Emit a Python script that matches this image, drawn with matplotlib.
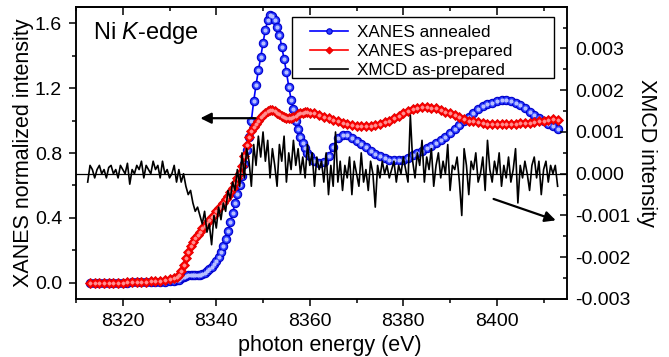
import matplotlib
matplotlib.use('Agg')
import matplotlib.pyplot as plt
from matplotlib.patches import Rectangle
from matplotlib.ticker import MultipleLocator, FixedLocator, FormatStrFormatter

plt.rcParams['font.family'] = 'Liberation Sans'
plt.rcParams['mathtext.fontset'] = 'custom'
plt.rcParams['mathtext.rm'] = 'Liberation Sans'
plt.rcParams['mathtext.it'] = 'Liberation Sans:italic'

# XANES energy grid (eV), shared by both XANES scans
energy = [8313, 8314, 8315, 8316, 8317, 8318, 8319, 8320, 8321, 8322,
          8323, 8324, 8325, 8326, 8327, 8328, 8329, 8330, 8331,
          8331.5, 8332, 8332.5, 8333, 8333.5, 8334, 8334.5, 8335, 8335.5, 8336,
          8336.5, 8337, 8337.5, 8338, 8338.5, 8339, 8339.5, 8340, 8340.5, 8341,
          8341.5, 8342, 8342.5, 8343, 8343.5, 8344, 8344.5, 8345, 8345.5, 8346,
          8346.5, 8347, 8347.5, 8348, 8348.5, 8349, 8349.5, 8350, 8350.5, 8351,
          8351.5, 8352, 8352.5, 8353, 8353.5, 8354, 8354.5, 8355, 8355.5, 8356,
          8356.5, 8357, 8357.5, 8358, 8358.5, 8359, 8359.5, 8360,
          8361, 8362, 8363, 8364, 8365, 8366, 8367, 8368, 8369, 8370,
          8371, 8372, 8373, 8374, 8375, 8376, 8377, 8378, 8379, 8380,
          8381, 8382, 8383, 8384, 8385, 8386, 8387, 8388, 8389, 8390,
          8391, 8392, 8393, 8394, 8395, 8396, 8397, 8398, 8399, 8400,
          8401, 8402, 8403, 8404, 8405, 8406, 8407, 8408, 8409, 8410,
          8411, 8412, 8413]

# XANES annealed (blue)
annealed = [0, 0, 0, 0, 0, 0, 0, 0, 0, 0.002,
            0.002, 0.003, 0.003, 0.004, 0.005, 0.006, 0.007, 0.009, 0.012,
            0.015, 0.02, 0.028, 0.036, 0.043, 0.047, 0.048, 0.047, 0.046, 0.046,
            0.048, 0.053, 0.06, 0.07, 0.083, 0.098, 0.116, 0.137, 0.162, 0.19,
            0.225, 0.27, 0.32, 0.375, 0.43, 0.49, 0.55, 0.60, 0.66, 0.73,
            0.82, 0.90, 1.00, 1.12, 1.22, 1.31, 1.39, 1.48, 1.56, 1.62,
            1.65, 1.645, 1.62, 1.58, 1.53, 1.455, 1.38, 1.30, 1.21, 1.13,
            1.07, 1.00, 0.95, 0.90, 0.86, 0.83, 0.80, 0.78,
            0.75, 0.74, 0.745, 0.78, 0.84, 0.89, 0.91, 0.91, 0.895, 0.875,
            0.855, 0.835, 0.815, 0.795, 0.78, 0.77, 0.76, 0.755, 0.755, 0.76,
            0.77, 0.785, 0.80, 0.815, 0.83, 0.845, 0.86, 0.88, 0.90, 0.925,
            0.95, 0.975, 1.0, 1.025, 1.05, 1.07, 1.09, 1.10, 1.11, 1.12,
            1.125, 1.125, 1.12, 1.11, 1.095, 1.075, 1.055, 1.035, 1.015, 0.995,
            0.98, 0.965, 0.95]

# XANES as-prepared (red)
prepared = [0, 0, 0, 0, 0, 0, 0, 0, 0.002, 0.003,
            0.004, 0.005, 0.006, 0.008, 0.01, 0.013, 0.017, 0.022, 0.03,
            0.036, 0.05, 0.075, 0.11, 0.15, 0.19, 0.225, 0.25, 0.275, 0.295,
            0.315, 0.335, 0.35, 0.37, 0.385, 0.405, 0.42, 0.44, 0.46, 0.475,
            0.495, 0.515, 0.535, 0.56, 0.585, 0.615, 0.645, 0.675, 0.72, 0.78,
            0.85, 0.90, 0.935, 0.96, 0.98, 1.0, 1.02, 1.035, 1.05, 1.06,
            1.065, 1.065, 1.06, 1.05, 1.04, 1.03, 1.02, 1.015, 1.015, 1.015,
            1.02, 1.03, 1.04, 1.045, 1.05, 1.055, 1.055, 1.05,
            1.045, 1.035, 1.025, 1.015, 1.005, 0.995, 0.985, 0.978, 0.972, 0.968,
            0.966, 0.966, 0.968, 0.972, 0.978, 0.99, 1.0, 1.015, 1.03, 1.045,
            1.06, 1.07, 1.08, 1.085, 1.085, 1.08, 1.075, 1.065, 1.055, 1.045,
            1.035, 1.02, 1.01, 1.0, 0.995, 0.99, 0.985, 0.98, 0.98, 0.978,
            0.978, 0.978, 0.98, 0.982, 0.984, 0.985, 0.988, 0.99, 0.995, 1.0,
            1.005, 1.01, 1.005]

# XMCD as-prepared, energies (eV) and signal in units of 1e-4
xmcd_energy = [8312.5, 8313.0, 8313.5, 8314.0, 8314.5, 8315.0, 8315.5, 8316.0, 8316.5, 8317.0,
               8317.5, 8318.0, 8318.5, 8319.0, 8319.5, 8320.0, 8320.5, 8321.0, 8321.5, 8322.0,
               8322.5, 8323.0, 8323.5, 8324.0, 8324.5, 8325.0, 8325.5, 8326.0, 8326.5, 8327.0,
               8327.5, 8328.0, 8328.5, 8329.0, 8329.5, 8330.0, 8330.5, 8331.0, 8331.5, 8332.0,
               8332.5, 8333.0, 8333.5, 8334.0, 8334.5, 8335.0, 8335.5, 8336.0, 8336.5, 8337.0,
               8337.5, 8338.0, 8338.5, 8339.0, 8339.5, 8340.0, 8340.5, 8341.0, 8341.5, 8342.0,
               8342.5, 8343.0, 8343.5, 8344.0, 8344.5, 8345.0, 8345.5, 8346.0, 8346.5, 8347.0,
               8347.5, 8348.0, 8348.5, 8349.0, 8349.5, 8350.0, 8350.5, 8351.0, 8351.5, 8352.0,
               8352.5, 8353.0, 8353.5, 8354.0, 8354.5, 8355.0, 8355.5, 8356.0, 8356.5, 8357.0,
               8357.5, 8358.0, 8358.5, 8359.0, 8359.5, 8360.0, 8360.5, 8361.0, 8361.5, 8362.0,
               8362.5, 8363.0, 8363.5, 8364.0, 8364.5, 8365.0, 8365.5, 8366.0, 8366.5, 8367.0,
               8367.5, 8368.0, 8368.5, 8369.0, 8369.5, 8370.0, 8370.5, 8371.0, 8371.5, 8372.0,
               8372.5, 8373.0, 8373.5, 8374.0, 8374.5, 8375.0, 8375.5, 8376.0, 8376.5, 8377.0,
               8377.5, 8378.0, 8378.5, 8379.0, 8379.5, 8380.0, 8380.5, 8381.0, 8381.5, 8382.0,
               8382.5, 8383.0, 8383.5, 8384.0, 8384.5, 8385.0, 8385.5, 8386.0, 8386.5, 8387.0,
               8387.5, 8388.0, 8388.5, 8389.0, 8389.5, 8390.0, 8390.5, 8391.0, 8391.5, 8392.0,
               8392.5, 8393.0, 8393.5, 8394.0, 8394.5, 8395.0, 8395.5, 8396.0, 8396.5, 8397.0,
               8397.5, 8398.0, 8398.5, 8399.0, 8399.5, 8400.0, 8400.5, 8401.0, 8401.5, 8402.0,
               8402.5, 8403.0, 8403.5, 8404.0, 8404.5, 8405.0, 8405.5, 8406.0, 8406.5, 8407.0,
               8407.5, 8408.0, 8408.5, 8409.0, 8409.5, 8410.0, 8410.5, 8411.0, 8411.5, 8412.0,
               8412.5, 8413.0]

xmcd_e4 = [-2, 2, 1, -1, 1, 2, 0, 1, -1, 1.5,
           2, 0, 1, -1, 2, 1, 0, 2.5, -2.5, 1,
           0, 2, 1, 3, -1, 2, 1, 0, 3, 1,
           2, -1, 3, 0, 1, -1, 0, 2, -2, 1,
           -2, 0, -3, -5, -4, -7, -9, -8, -10, -12,
           -9, -14, -12, -17, -10, -13, -8, -11, -7, -9,
           -4, -6, -2, -4, 1, -3, 5, -1, 6, 3,
           -3, 7, 2, 9, 4, 10, 3, 8, -1, 6,
           2, -3, 7, 3, 9, -2, 5, 1, 8, 2,
           6, 0, 4, -1, 7, 2, 5, -3, 4, 1,
           3, -2, 5, -5, 2, -3, 10, -2, 3, -4,
           2, -1, 4, -5, 3, 0, -3, 5, -2, 1,
           -4, 3, 0, -8, 2, -1, 3, 0, 2, -1,
           1, 3, -2, 2, 0, 4, 1, -2, 14, 3,
           -1, 5, 2, 8, -2, 4, 1, 6, -3, 2,
           5, -1, 3, 0, 7, -4, 2, 1, 4, -2,
           -10, 6, 2, -5, 3, 1, 5, -2, 0, 4,
           -4, 8, 1, -2, 3, 0, 5, -3, 2, -1,
           4, -2, 1, 6, -7, 2, -1, 3, 0, -4,
           2, 4, -1, 3, -5, 1, 3, -2, 2, 0,
           2, -3]
xmcd = [v * 1e-4 for v in xmcd_e4]

fig = plt.figure(figsize=(6.69, 3.57), dpi=100)
ax = fig.add_axes([0.1136, 0.1625, 0.7339, 0.8175])
ax2 = ax.twinx()

# XANES curves on left axis
l1, = ax.plot(energy, annealed, '-o', color='blue', lw=1.2, ms=6,
              mfc='#2a3cff', mec='#0000cc', mew=0.8, label='XANES annealed')
ax.plot(energy, annealed, 'o', ms=2, color='#b8c0ff', ls='none')
l2, = ax.plot(energy, prepared, '-D', color='red', lw=1.2, ms=5.5,
              mfc='#ff0000', mec='#e00000', mew=0.6, label='XANES as-prepared')
ax.plot(energy, prepared, 'D', ms=1.5, color='#ff9090', ls='none')

# XMCD on right axis
ax2.axhline(0, color='k', lw=0.9)
l3, = ax2.plot(xmcd_energy, xmcd, color='k', lw=1.2, label='XMCD as-prepared')

ax.set_xlim(8310, 8415)
ax.set_ylim(-0.1, 1.7)
ax2.set_ylim(-0.003, 0.00399)

ax.xaxis.set_major_locator(MultipleLocator(20))
ax.xaxis.set_minor_locator(MultipleLocator(10))
ax.yaxis.set_major_locator(MultipleLocator(0.4))
ax.yaxis.set_minor_locator(MultipleLocator(0.2))
ax.yaxis.set_major_formatter(FormatStrFormatter('%.1f'))
ax.tick_params(which='both', direction='out', width=1.1, labelsize=14, pad=5)
ax.tick_params(which='major', length=5)
ax.tick_params(which='minor', length=3)

ax2.yaxis.set_major_locator(FixedLocator([-0.003, -0.002, -0.001, 0.0, 0.001, 0.002, 0.003]))
ax2.yaxis.set_minor_locator(MultipleLocator(0.0005))
ax2.yaxis.set_major_formatter(FormatStrFormatter('%.3f'))
ax2.tick_params(which='both', direction='in', width=1.1, labelsize=14, pad=6)
ax2.tick_params(which='major', length=5)
ax2.tick_params(which='minor', length=3)

top = ax.secondary_xaxis('top')
top.xaxis.set_major_locator(MultipleLocator(20))
top.xaxis.set_minor_locator(MultipleLocator(10))
top.tick_params(which='both', direction='in', width=1.1, labeltop=False)
top.tick_params(which='major', length=6)
top.tick_params(which='minor', length=3)

for a in (ax, ax2, top):
    for s in a.spines.values():
        s.set_linewidth(1.1)

ax.set_xlabel('photon energy (eV)', fontsize=15.5, labelpad=3.5)
ax.xaxis.label.set_x(0.516)
ax.set_ylabel('XANES normalized intensity', fontsize=15.5, labelpad=0.5)
ax2.set_ylabel('XMCD intensity', fontsize=15.5, rotation=270, va='bottom', labelpad=3.5)

ax.text(0.035, 0.91, 'Ni $K$-edge', transform=ax.transAxes, fontsize=17, va='center')

# arrows pointing to the axes
arrow = dict(arrowstyle='-|>', color='k', lw=1.6, mutation_scale=16, shrinkA=0, shrinkB=0)
ax.annotate('', xy=(8336.6, 1.015), xytext=(8348.4, 1.015), arrowprops=arrow)
ax.annotate('', xy=(8412.6, 0.385), xytext=(8399.3, 0.517), arrowprops=arrow)

# Origin-style legend: wide frame drawn separately, entries flush left
frame = Rectangle((0.4405, 0.7558), 0.5336, 0.2089, transform=ax2.transAxes,
                  facecolor='white', edgecolor='k', lw=1.0, zorder=4.5)
ax2.add_patch(frame)
leg = ax2.legend([l1, l2, l3], [l1.get_label(), l2.get_label(), l3.get_label()],
                 loc='upper left', bbox_to_anchor=(0.4766, 0.938), fontsize=12.3,
                 frameon=False, borderaxespad=0, borderpad=0,
                 handlelength=2.2, labelspacing=0.22, handletextpad=0.55,
                 numpoints=1, markerscale=0.65)

fig.savefig('out.png', dpi=100)
